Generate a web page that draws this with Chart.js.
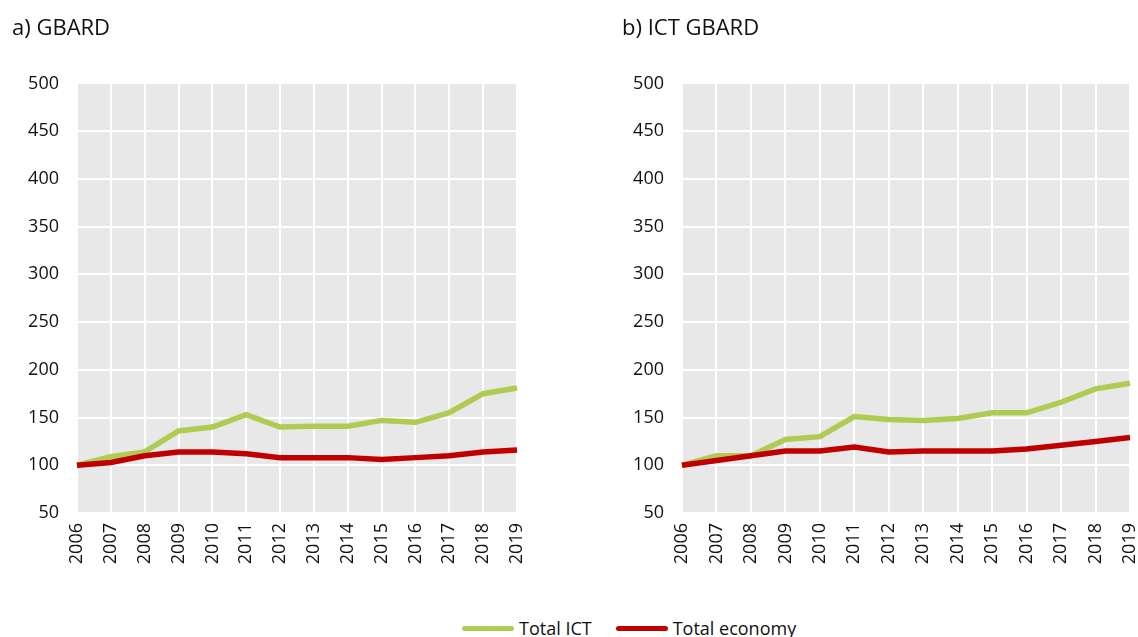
<!DOCTYPE html>
<html>
<head>
<meta charset="utf-8">
<script src="https://cdn.jsdelivr.net/npm/chart.js@4.4.0/dist/chart.umd.min.js"></script>
<style>
  body { margin: 0; background: #fff; width: 1138px; height: 637px; overflow: hidden; position: relative; font-family: "Open Sans", sans-serif; }
  canvas { position: absolute; top: 0; }
  #chartA { left: 0; }
  #chartB { left: 610px; }
  #legend { position: absolute; left: 462px; top: 616px; display: flex; align-items: center; font-size: 18px; color: #111; }
  .item { display: flex; align-items: center; margin-right: 24px; }
  .swatch { width: 52px; height: 5px; border-radius: 3px; margin-right: 5px; }
</style>
</head>
<body>
<canvas id="chartA" width="535" height="590"></canvas>
<canvas id="chartB" width="528" height="590"></canvas>
<div id="legend"></div>
<script>
// Index values, 2006 = 100
const years = ['2006', '2007', '2008', '2009', '2010', '2011', '2012', '2013', '2014', '2015', '2016', '2017', '2018', '2019'];
const seriesNames = ['Total ICT', 'Total economy'];
const seriesColors = ['#b0cb52', '#c00000'];

const gbardICT = [100, 109, 114, 136, 140, 153, 140, 141, 141, 147, 145, 155, 175, 181];
const gbardTotal = [100, 103, 110, 114, 114, 112, 108, 108, 108, 106, 108, 110, 114, 116];

const ictGbardICT = [100, 110, 110, 127, 130, 151, 148, 147, 149, 155, 155, 166, 180, 186];
const ictGbardTotal = [100, 105, 110, 115, 115, 119, 114, 115, 115, 115, 117, 121, 125, 129];

const yMin = 50, yMax = 500, yStep = 50;

// grey plot background
const plotBg = {
    id: 'plotBg',
    beforeDraw(chart) {
        const a = chart.chartArea;
        const ctx = chart.ctx;
        ctx.save();
        ctx.fillStyle = '#e8e8e8';
        ctx.fillRect(a.left, a.top, a.right - a.left, a.bottom - a.top);
        ctx.restore();
    }
};

function makeChart(id, title, ictData, totalData, padLeft, padRight, yWidth) {
    const ctx = document.getElementById(id).getContext('2d');
    return new Chart(ctx, {
        type: 'line',
        data: {
            labels: years,
            datasets: [
                { label: seriesNames[0], data: ictData, borderColor: seriesColors[0], order: 2 },
                { label: seriesNames[1], data: totalData, borderColor: seriesColors[1], order: 1 }
            ]
        },
        options: {
            responsive: false,
            animation: false,
            devicePixelRatio: 1,
            layout: { padding: { left: padLeft, right: padRight, top: 0, bottom: 0 } },
            elements: {
                line: { borderWidth: 5.5, tension: 0, borderCapStyle: 'butt' },
                point: { radius: 0 }
            },
            plugins: {
                legend: { display: false },
                tooltip: { enabled: false },
                title: {
                    display: true,
                    text: title,
                    align: 'start',
                    color: '#111',
                    font: { family: 'Open Sans', size: 22, weight: 'normal' },
                    padding: { top: 16, bottom: 41 }
                }
            },
            scales: {
                x: {
                    offset: false,
                    grid: { color: '#ffffff', lineWidth: 2, drawTicks: false },
                    border: { display: false },
                    ticks: {
                        color: '#111',
                        font: { family: 'Open Sans', size: 18 },
                        minRotation: 90, maxRotation: 90,
                        padding: 10,
                        autoSkip: false
                    },
                    afterFit(scale) {
                        scale.height = 77;
                        scale.paddingLeft = 0;
                        scale.paddingRight = 0;
                    }
                },
                y: {
                    min: yMin, max: yMax,
                    grid: { color: '#ffffff', lineWidth: 2, drawTicks: false },
                    border: { display: false },
                    ticks: {
                        stepSize: yStep,
                        color: '#111',
                        font: { family: 'Open Sans', size: 18 },
                        padding: 18
                    },
                    afterFit(scale) { scale.width = yWidth; }
                }
            }
        },
        plugins: [plotBg]
    });
}

makeChart('chartA', 'a) GBARD', gbardICT, gbardTotal, 12, 18, 65);
makeChart('chartB', 'b) ICT GBARD', ictGbardICT, ictGbardTotal, 12, 8, 60);

// shared legend
const legend = document.getElementById('legend');
seriesNames.forEach((name, i) => {
    const item = document.createElement('div');
    item.className = 'item';
    const sw = document.createElement('span');
    sw.className = 'swatch';
    sw.style.background = seriesColors[i];
    const txt = document.createElement('span');
    txt.textContent = name;
    item.appendChild(sw);
    item.appendChild(txt);
    legend.appendChild(item);
});
</script>
</body>
</html>
